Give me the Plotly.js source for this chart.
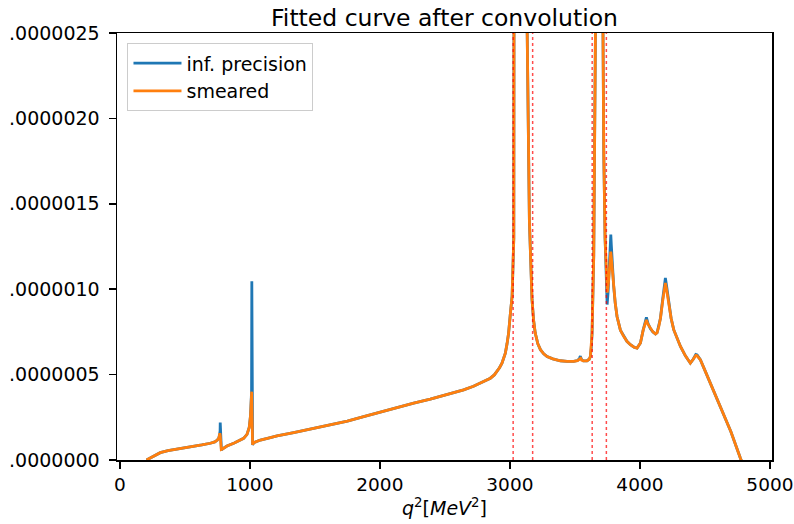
<!DOCTYPE html>
<html>
<head>
<meta charset="utf-8">
<script src="https://cdn.plot.ly/plotly-3.0.1.min.js"></script>
<style>html,body{margin:0;padding:0;background:#fff;}#chart{width:794px;height:524px;}</style>
</head>
<body>
<div id="chart"></div>
<script>
// values are in units of 1e-7
const UNIT = 1e-7;

const lowX = [205, 250, 311, 370, 440, 500, 568, 630, 696, 730, 750, 762];
const lowY = [0, 0.2, 0.43, 0.55, 0.63, 0.71, 0.78, 0.88, 0.98, 1.06, 1.17, 1.3];

const omegaInfX = [768, 771, 772, 774, 778, 781];
const omegaInfY = [1.55, 1.7, 2.19, 1.9, 1.0, 0.6];
const omegaSmearX = [766, 769, 772, 776, 780];
const omegaSmearY = [1.45, 1.57, 1.45, 1.0, 0.62];

const midX = [790, 824, 880, 930, 952, 978, 995, 1005];
const midY = [0.65, 0.82, 1.0, 1.18, 1.27, 1.5, 1.9, 2.6];

const phiInfX = [1013, 1015, 1017, 1021];
const phiInfY = [4.0, 10.46, 3.5, 0.88];
const phiSmearX = [1010, 1014, 1017, 1021];
const phiSmearY = [3.3, 4.0, 2.5, 0.9];

const rampX = [1030, 1081, 1150, 1209, 1337, 1465, 1594, 1750, 1875, 2000, 2132, 2260, 2388, 2520, 2644, 2720, 2772, 2820, 2850, 2880, 2901, 2920, 2939, 2955, 2965, 2978, 2990, 3004, 3017, 3030, 3042, 3060, 3080, 3097, 3115, 3125, 3133, 3150, 3170, 3182, 3195, 3215, 3235, 3260, 3286, 3330, 3388, 3440, 3491, 3520];
const rampY = [1.02, 1.17, 1.3, 1.41, 1.6, 1.8, 2.0, 2.28, 2.54, 2.8, 3.09, 3.33, 3.56, 3.83, 4.11, 4.32, 4.5, 4.65, 4.79, 4.98, 5.18, 5.4, 5.67, 6.0, 6.26, 6.8, 7.43, 8.6, 9.6, 13, 25, 60, 200, 600, 200, 60, 25, 14, 9.4, 8.2, 7.43, 6.8, 6.46, 6.22, 6.06, 5.92, 5.81, 5.78, 5.77, 5.82];

const blipInfX = [3535, 3542, 3550];
const blipInfY = [5.95, 6.08, 5.9];
const blipSmearX = [3535, 3545, 3552];
const blipSmearY = [5.88, 5.95, 5.85];

const psiX = [3565, 3593, 3610, 3619, 3626, 3632, 3645, 3658, 3672, 3686, 3700, 3712, 3722, 3732];
const psiY = [5.8, 5.81, 5.9, 6.06, 6.6, 7.43, 12, 25, 80, 600, 80, 30, 18, 13];

const psi3770InfX = [3740, 3748, 3755, 3765, 3773, 3776, 3780, 3790];
const psi3770InfY = [10.5, 9.1, 9.8, 11.5, 12.8, 13.2, 12.6, 11.0];
const psi3770SmearX = [3740, 3749, 3758, 3768, 3776, 3783, 3790];
const psi3770SmearY = [11.2, 9.8, 10.4, 11.6, 12.2, 11.6, 10.9];

const tailX = [3798, 3810, 3824, 3850, 3875, 3900, 3927, 3955, 3978, 4004, 4025, 4040, 4050, 4062, 4080, 4100, 4120, 4132, 4145, 4158, 4175, 4188, 4196, 4205, 4215, 4222, 4240, 4260, 4285, 4312, 4350, 4388, 4410, 4430, 4440, 4452, 4465, 4500, 4542, 4600, 4644, 4700, 4773, 4800];
const tailInfY = [10.2, 9.2, 8.4, 7.6, 7.24, 6.95, 6.75, 6.6, 6.55, 6.85, 7.6, 8.15, 8.35, 8.0, 7.7, 7.5, 7.38, 7.45, 7.8, 8.3, 9.4, 10.3, 10.66, 10.2, 9.6, 9.2, 8.3, 7.63, 7.1, 6.65, 6.1, 5.67, 5.9, 6.18, 6.15, 5.98, 5.87, 5.25, 4.5, 3.5, 2.74, 1.65, 0.1, -0.4];
const tailSmearY = [10.2, 9.2, 8.4, 7.6, 7.24, 6.95, 6.75, 6.6, 6.55, 6.85, 7.6, 8.05, 8.2, 7.95, 7.7, 7.5, 7.38, 7.45, 7.8, 8.3, 9.3, 10.1, 10.37, 10.0, 9.5, 9.2, 8.3, 7.63, 7.1, 6.65, 6.1, 5.67, 5.9, 6.12, 6.1, 5.95, 5.87, 5.25, 4.5, 3.5, 2.74, 1.65, 0.1, -0.4];

const cutEdges = [3025, 3175, 3633, 3742];

const yTickVals = [0, 5, 10, 15, 20, 25];
const yTickText = ['.0000000', '.0000005', '.0000010', '.0000015', '.0000020', '.0000025'];
const xTickVals = [0, 1000, 2000, 3000, 4000, 5000];

const infX = [].concat(lowX, omegaInfX, midX, phiInfX, rampX, blipInfX, psiX, psi3770InfX, tailX);
const infY = [].concat(lowY, omegaInfY, midY, phiInfY, rampY, blipInfY, psiY, psi3770InfY, tailInfY).map(v => v * UNIT);
const smearX = [].concat(lowX, omegaSmearX, midX, phiSmearX, rampX, blipSmearX, psiX, psi3770SmearX, tailX);
const smearY = [].concat(lowY, omegaSmearY, midY, phiSmearY, rampY, blipSmearY, psiY, psi3770SmearY, tailSmearY).map(v => v * UNIT);

const FONT = 'DejaVu Sans, sans-serif';

const traces = [
  {x: infX, y: infY, type: 'scatter', mode: 'lines', name: 'inf. precision',
   line: {color: '#1f77b4', width: 2.8}},
  {x: smearX, y: smearY, type: 'scatter', mode: 'lines', name: 'smeared',
   line: {color: '#ff7f0e', width: 2.8}}
];

const shapes = cutEdges.map(c => ({
  type: 'line', xref: 'x', yref: 'paper', x0: c, x1: c, y0: 0, y1: 1,
  line: {color: 'rgba(255,0,0,0.7)', width: 1.5, dash: 'dot'}, layer: 'above'
}));

const layout = {
  width: 794, height: 524,
  margin: {l: 117, r: 22, t: 33, b: 64},
  paper_bgcolor: '#fff', plot_bgcolor: '#fff',
  font: {family: FONT, size: 19, color: '#000'},
  showlegend: true,
  title: {text: 'Fitted curve after convolution', font: {family: FONT, size: 23.5, color: '#000'},
          x: 0.5, xref: 'paper', xanchor: 'center', y: 1, yref: 'paper', yanchor: 'bottom', pad: {b: 7}},
  xaxis: {range: [-22, 5016], tickvals: xTickVals, ticktext: xTickVals.map(String),
          showgrid: false, zeroline: false, showline: true, mirror: true, linecolor: '#000', linewidth: 1.5,
          ticks: 'outside', ticklen: 7, tickwidth: 1.5, tickcolor: '#000',
          tickfont: {family: FONT, size: 18.5, color: '#000'},
          title: {text: '<i>q</i><sup>2</sup>[<i>MeV</i><sup>2</sup>]', font: {family: FONT, size: 19, color: '#000'}, standoff: 6}},
  yaxis: {range: [0, 2.5e-6], tickvals: yTickVals.map(v => v * UNIT), ticktext: yTickText,
          showgrid: false, zeroline: false, showline: true, mirror: true, linecolor: '#000', linewidth: 1.5,
          ticks: 'outside', ticklen: 7, tickwidth: 1.5, tickcolor: '#000', ticklabelstandoff: 5,
          tickfont: {family: FONT, size: 19, color: '#000'}},
  legend: {x: 0.016, y: 0.976, xanchor: 'left', yanchor: 'top',
           bgcolor: 'rgba(255,255,255,0.8)', bordercolor: '#cccccc', borderwidth: 1,
           font: {family: FONT, size: 19, color: '#000'}, itemwidth: 48},
  shapes: shapes
};

Plotly.newPlot('chart', traces, layout, {staticPlot: true, displayModeBar: false});
</script>
</body>
</html>
